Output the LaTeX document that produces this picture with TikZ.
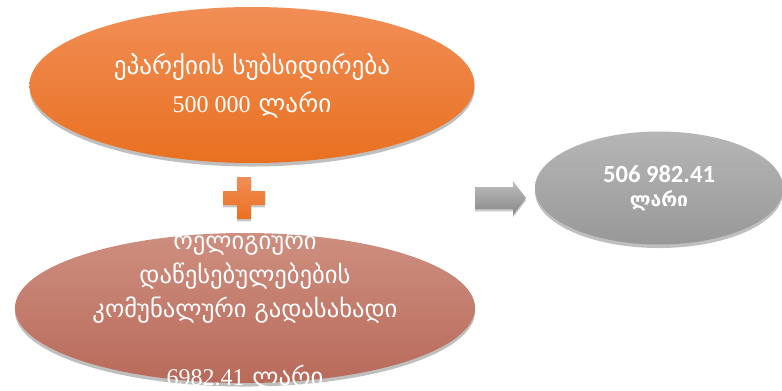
\documentclass[tikz,border=0pt]{standalone}
\usepackage{fontspec}
\usetikzlibrary{shapes.geometric,shadows,calc}
\newfontfamily\geofont{DejaVu Sans}
\newfontfamily\numfont{Liberation Serif}
\newfontfamily\calfont{Carlito}
\definecolor{orTop}{RGB}{241,142,86}
\definecolor{orBot}{RGB}{233,112,32}
\definecolor{rsTop}{RGB}{206,143,128}
\definecolor{rsBot}{RGB}{184,106,90}
\definecolor{gyTop}{RGB}{182,182,182}
\definecolor{gyBot}{RGB}{152,152,152}
\definecolor{arTop}{RGB}{190,190,190}
\definecolor{arBot}{RGB}{135,135,135}
\tikzset{
  blob/.style={ellipse, inner sep=0pt, draw=none,
    drop shadow={shadow xshift=0pt, shadow yshift=-3pt, opacity=0.25, fill=black}},
  orangeblob/.style={blob, top color=orTop, bottom color=orBot},
  roseblob/.style={blob, top color=rsTop, bottom color=rsBot},
  grayblob/.style={blob, top color=gyTop, bottom color=gyBot},
  txt/.style={text=white, align=center, inner sep=0pt},
}
\begin{document}
\begin{tikzpicture}[x=0.03cm, y=-0.03cm]
\useasboundingbox (0,0) rectangle (782,391);
% ellipses
\node[orangeblob, minimum width=13.35cm, minimum height=4.68cm] (top) at (252,85) {};
\node[roseblob, minimum width=13.8cm, minimum height=4.5cm] (bot) at (245,308) {};
\node[grayblob, minimum width=7.44cm, minimum height=3.39cm] (res) at (659,188) {};
% texts
\node[txt, font={\geofont\fontsize{21.5pt}{32pt}\selectfont}] (toptxt) at (252,86)
  {ეპარქიის სუბსიდირება\\{\numfont\fontsize{20.5pt}{32pt}\selectfont 500 000} ლარი};
\node[txt, font={\geofont\fontsize{21pt}{29pt}\selectfont}] (bottxt) at (245,310)
  {რელიგიური\\დაწესებულებების\\კომუნალური გადასახადი\\[29pt]{\numfont\fontsize{20.5pt}{29pt}\selectfont 6982.41} ლარი};
\node[txt, font={\bfseries\fontsize{21pt}{20pt}\selectfont}] (restxt) at (res.center)
  {{\calfont 506 982.41}\\{\geofont\fontsize{16.5pt}{20pt}\selectfont ლარი}};
% plus sign
\shade[top color=orTop, bottom color=orBot,
  drop shadow={shadow xshift=0pt, shadow yshift=-2pt, opacity=0.22, fill=black}]
  (237,177) -- (251,177) -- (251,191) -- (265,191) -- (265,205) -- (251,205)
  -- (251,219) -- (237,219) -- (237,205) -- (223,205) -- (223,191) -- (237,191) -- cycle;
% arrow
\coordinate (arrTail) at (475,198);
\coordinate (arrTip) at (526,198);
\shade[top color=arTop, bottom color=arBot,
  drop shadow={shadow xshift=0pt, shadow yshift=-2pt, opacity=0.22, fill=black}]
  ($(arrTail)+(0,-11)$) -- (513,187) -- (513,181) -- (arrTip) -- (513,215) -- (513,209)
  -- ($(arrTail)+(0,11)$) -- cycle;
\end{tikzpicture}
\end{document}
